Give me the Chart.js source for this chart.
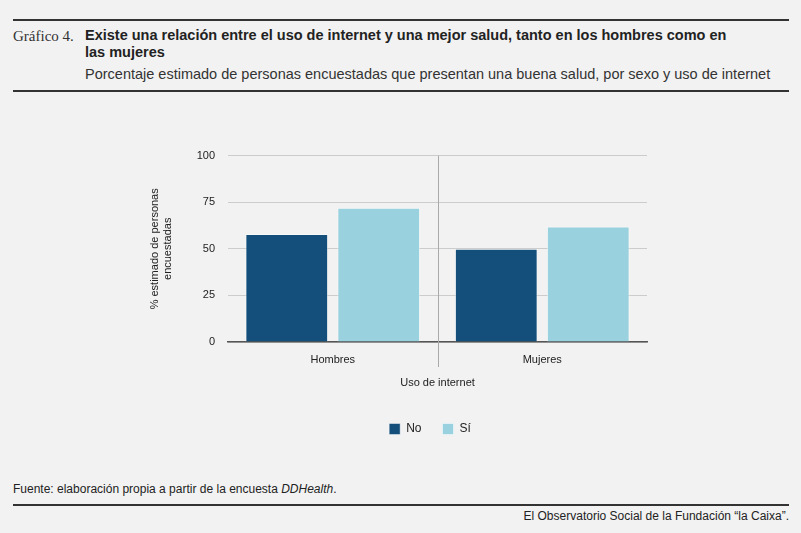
<!DOCTYPE html>
<html>
<head>
<meta charset="utf-8">
<script src="https://cdn.jsdelivr.net/npm/chart.js@4.4.0/dist/chart.umd.min.js"></script>
<style>
  html, body { margin: 0; padding: 0; background: #f2f2f2; }
  body { width: 801px; height: 533px; position: relative; overflow: hidden;
         font-family: "Liberation Sans", Arial, sans-serif; color: #222; }
  .rule { position: absolute; left: 13px; width: 776px; height: 2px; background: #333; }
  .num { position: absolute; left: 13px; top: 28px; font-family: "Liberation Serif", serif; font-size: 15px; color: #333; }
  .title { position: absolute; left: 85px; top: 27px; width: 650px; font-size: 14.5px; font-weight: bold; line-height: 17px; color: #222; }
  .sub { position: absolute; left: 85px; top: 66px; font-size: 14.5px; color: #333; }
  .src { position: absolute; left: 13px; top: 482px; font-size: 12px; color: #222; }
  .org { position: absolute; right: 12px; top: 509px; font-size: 12px; color: #222; }
  #wrap { position: absolute; left: 140px; top: 136px; width: 580px; height: 309px; }
</style>
</head>
<body>
<div class="rule" style="top:19px"></div>
<div class="num">Gráfico 4.</div>
<div class="title">Existe una relación entre el uso de internet y una mejor salud, tanto en los hombres como en las mujeres</div>
<div class="sub">Porcentaje estimado de personas encuestadas que presentan una buena salud, por sexo y uso de internet</div>
<div class="rule" style="top:90px"></div>

<div id="wrap"><canvas id="chart"></canvas></div>

<div class="src">Fuente: elaboración propia a partir de la encuesta <i>DDHealth</i>.</div>
<div class="rule" style="top:504px"></div>
<div class="org">El Observatorio Social de la Fundación “la Caixa”.</div>

<script>
    "use strict";

    // Data
    var categories = ["Hombres", "Mujeres"];
    var seriesNames = ["No", "Sí"];
    var valuesNo = [58, 50];
    var valuesSi = [72, 62];
    var yTicks = [0, 25, 50, 75, 100];

    Chart.defaults.font.family = '"Liberation Sans", Arial, sans-serif';
    Chart.defaults.color = "#222";

    // Separator line between the two groups
    var separator = {
        id: "separator",
        beforeDatasetsDraw: function (chart) {
            var x = chart.scales.x.getPixelForValue(0.5);
            var area = chart.chartArea;
            var c = chart.ctx;
            c.save();
            c.strokeStyle = "#aaaaaa";
            c.lineWidth = 1;
            c.beginPath();
            c.moveTo(Math.round(x) + 0.5, area.top);
            c.lineTo(Math.round(x) + 0.5, area.bottom + 25);
            c.stroke();
            c.restore();
        }
    };

    var ctx = document.getElementById("chart").getContext("2d");
    var myChart = new Chart(ctx, {
        type: "bar",
        data: {
            labels: categories,
            datasets: [{
                label: seriesNames[0],
                data: valuesNo,
                backgroundColor: "#134f7a",
                borderColor: "rgba(255,255,255,0.45)",
                borderWidth: 1
            }, {
                label: seriesNames[1],
                data: valuesSi,
                backgroundColor: "#99d2de",
                borderColor: "rgba(255,255,255,0.45)",
                borderWidth: 1
            }]
        },
        plugins: [separator],
        options: {
            responsive: true,
            maintainAspectRatio: false,
            animation: false,
            categoryPercentage: 0.878,
            barPercentage: 0.9,
            layout: { padding: { top: 11, right: 0, bottom: 0, left: 0 } },
            plugins: {
                tooltip: { enabled: false },
                legend: {
                    position: "bottom",
                    labels: {
                        boxWidth: 11,
                        boxHeight: 11,
                        padding: 21,
                        font: { size: 12 },
                        color: "#222"
                    }
                }
            },
            scales: {
                x: {
                    afterFit: function (scale) { scale.height = 60; },
                    grid: { display: false, drawTicks: false },
                    border: { display: true, color: "#555", width: 1.5 },
                    ticks: { padding: 11, font: { size: 11 }, color: "#222" },
                    title: {
                        display: true,
                        text: "Uso de internet",
                        font: { size: 11 },
                        color: "#222",
                        padding: { top: 0, bottom: 12 }
                    }
                },
                y: {
                    min: 0,
                    max: 100,
                    afterBuildTicks: function (scale) {
                        scale.ticks = yTicks.map(function (v) { return { value: v }; });
                    },
                    afterFit: function (scale) { scale.width = 88; },
                    grid: { color: "#cccccc", drawTicks: false },
                    border: { display: false },
                    ticks: { padding: 13, font: { size: 11 }, color: "#222" },
                    title: {
                        display: true,
                        text: ["% estimado de personas", "encuestadas"],
                        font: { size: 11 },
                        color: "#222",
                        padding: { top: 8, bottom: 4 }
                    }
                },
                // empty right-hand axis, only reserves space so the legend centres like the original
                y2: {
                    position: "right",
                    min: 0,
                    max: 100,
                    afterFit: function (scale) { scale.width = 73; },
                    grid: { display: false, drawTicks: false },
                    border: { display: false },
                    ticks: { display: false }
                }
            }
        }
    });
</script>
</body>
</html>
